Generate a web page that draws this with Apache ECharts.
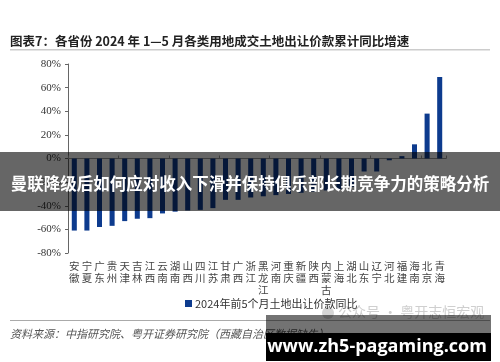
<!DOCTYPE html>
<html><head><meta charset="utf-8">
<script src="https://cdn.jsdelivr.net/npm/echarts@6/dist/echarts.min.js"></script>
<style>html,body{margin:0;padding:0;background:#fff}#c{width:500px;height:362px}</style>
</head><body><div id="c"></div>
<script>
const categories = ['安徽','宁夏','广东','贵州','天津','吉林','江西','云南','湖南','山西','四川','江苏','甘肃','广西','浙江','黑龙江','河南','重庆','新疆','陕西','内蒙古','上海','湖北','山东','辽宁','河北','福建','海南','北京','青海'];
const values = [-61,-61,-58,-57,-53,-51,-50.5,-46.5,-45,-44,-43.5,-42,-35,-35,-33,-32,-31,-30,-29,-28,-27,-26,-24,-11,-11,-1.5,2,12,38,69];
const seriesName = '2024年前5个月土地出让价款同比';
const yTicks = {min:-80, max:80, interval:20};
const titleText = '图表7：各省份 2024 年 1—5 月各类用地成交土地出让价款累计同比增速';
const sourceText = '资料来源：中指研究院、粤开证券研究院（西藏自治区数据缺失）';
const bannerText = '曼联降级后如何应对收入下滑并保持俱乐部长期竞争力的策略分析';
const siteText = 'www.zh5-pagaming.com';
const wmText = '公众号 · 粤开志恒宏观';

const cjk = '"Noto Sans CJK SC", sans-serif';
const chart = echarts.init(document.getElementById('c'), null, {renderer:'canvas'});
chart.setOption({
  animation:false,
  backgroundColor:'#fff',
  grid:{left:68, right:54, top:64, bottom:109, containLabel:false},
  legend:{data:[seriesName], top:293, left:180, icon:'rect', itemWidth:7, itemHeight:7, itemGap:4,
    textStyle:{fontFamily:cjk, fontSize:11, color:'#333', padding:[0,0,0,-2]}},
  xAxis:[
    {type:'category', data:categories, axisLine:{onZero:true, lineStyle:{color:'#999', width:1}},
     axisTick:{show:true, inside:true, length:3, lineStyle:{color:'#999'}}, axisLabel:{show:false}},
    {type:'category', data:categories, position:'bottom', axisLine:{show:false, onZero:false}, axisTick:{show:false},
     axisLabel:{show:true, interval:0, margin:7, fontFamily:cjk, fontSize:10.5, color:'#444', lineHeight:12,
       formatter: v => v.split('').join('\n')}}
  ],
  yAxis:{type:'value', min:yTicks.min, max:yTicks.max, interval:yTicks.interval,
    axisLine:{show:true, lineStyle:{color:'#666'}}, axisTick:{show:true, length:3, lineStyle:{color:'#666'}},
    splitLine:{show:false},
    axisLabel:{formatter:'{value}%', fontFamily:'"Liberation Serif", serif', fontSize:11, color:'#333', margin:7}},
  series:[{name:seriesName, type:'bar', data:values, barWidth:'40%', itemStyle:{color:'#0d3b8e'}, xAxisIndex:0}],
  graphic:[
    {type:'text', left:10, top:35, style:{text:titleText, fontFamily:cjk, fontWeight:'bold', fontSize:12.5, fill:'#222'}},
    {type:'rect', shape:{x:10, y:49, width:480, height:1.5}, style:{fill:'#ccc'}},
    {type:'rect', shape:{x:10, y:320, width:480, height:1}, style:{fill:'#aaa'}},
    {type:'text', left:10, top:328, style:{text:sourceText, fontFamily:cjk, fontStyle:'italic', fontSize:11, fill:'#555'}},
    {type:'text', left:338, top:305, style:{text:wmText, fontFamily:cjk, fontSize:14, fill:'#cfcfcf'}},
    {type:'circle', shape:{cx:328, cy:313, r:6}, style:{fill:'#d5d5d5'}},
    {type:'rect', shape:{x:0, y:152, width:500, height:59}, style:{fill:'rgba(0,0,0,0.6)'}, z:100},
    {type:'text', x:250, y:184, style:{text:bannerText, fontFamily:cjk, fontWeight:'bold', fontSize:16.5, fill:'#fff', align:'center', verticalAlign:'middle'}, z:101},
    {type:'rect', shape:{x:266, y:315, width:225, height:18}, style:{fill:'rgba(0,0,0,0.55)'}, z:100},
    {type:'rect', shape:{x:266, y:333, width:225, height:28}, style:{fill:'#000'}, z:100},
    {type:'text', x:377, y:347, style:{text:siteText, fontFamily:'"Open Sans", sans-serif', fontWeight:'bold', fontSize:18, fill:'#fff', align:'center', verticalAlign:'middle'}, z:101}
  ]
});
</script></body></html>
